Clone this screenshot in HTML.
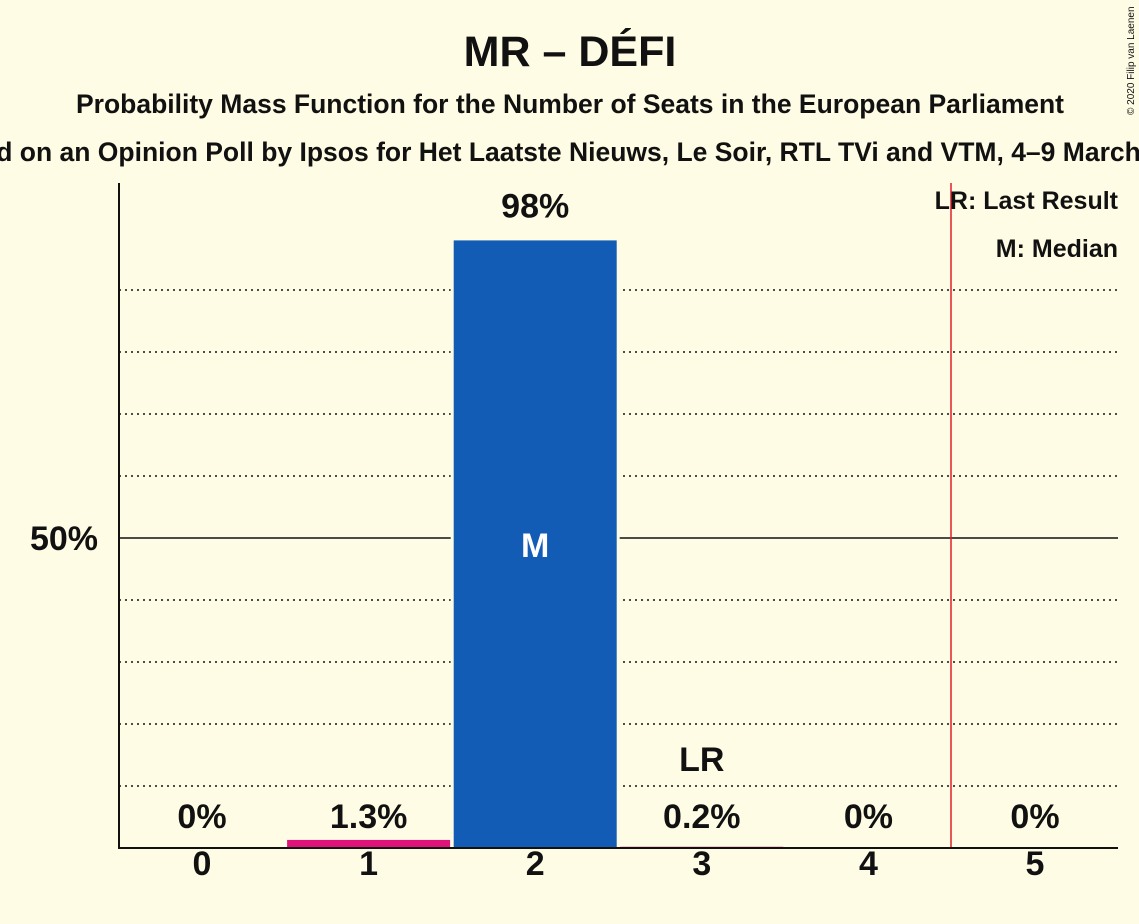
<!DOCTYPE html>
<html><head><meta charset="utf-8"><style>
body{margin:0;background:#fefce4;}
svg{display:block;font-family:"Liberation Sans",sans-serif;}
</style></head><body>
<svg id="c" width="1139" height="924" xmlns="http://www.w3.org/2000/svg">
<rect width="1139" height="924" fill="#fefce4"/>
<text x="570" y="66" text-anchor="middle" font-size="43" font-weight="bold" fill="#111">MR – DÉFI</text>
<text x="570" y="113" text-anchor="middle" font-size="26.5" font-weight="bold" fill="#111">Probability Mass Function for the Number of Seats in the European Parliament</text>
<text x="570" y="161" text-anchor="middle" font-size="26.5" font-weight="bold" fill="#111">Based on an Opinion Poll by Ipsos for Het Laatste Nieuws, Le Soir, RTL TVi and VTM, 4–9 March 2020</text>
<text transform="translate(1134,115) rotate(-90)" font-size="10" fill="#111">© 2020 Filip van Laenen</text>
<g id="grid"></g>
<g id="bars"></g>
<line x1="951" y1="183" x2="951" y2="848" stroke="#e0202a" stroke-width="1.5"/>
<line x1="119" y1="183" x2="119" y2="849" stroke="#111" stroke-width="2"/>
<line x1="118" y1="848" x2="1118" y2="848" stroke="#111" stroke-width="2"/>
<text x="98" y="550" text-anchor="end" font-size="34" font-weight="bold" fill="#111">50%</text>
<text x="1118" y="209" text-anchor="end" font-size="25" font-weight="bold" fill="#111">LR: Last Result</text>
<text x="1118" y="257" text-anchor="end" font-size="25" font-weight="bold" fill="#111">M: Median</text>
</svg>
<script>
const seats=[0,1,2,3,4,5];
const probs=[0,1.3,98,0.2,0,0];
const labels=["0%","1.3%","98%","0.2%","0%","0%"];
const medianSeat=2, lastResult=3;
const NS="http://www.w3.org/2000/svg";
const x0=202, dx=166.6, bw=163, base=848, pxPer=6.2;
const xs=s=>x0+s*dx, ys=v=>base-v*pxPer;
function mk(t,a,p){const e=document.createElementNS(NS,t);for(const k in a)e.setAttribute(k,a[k]);p.appendChild(e);return e;}
const g=document.getElementById('grid'), b=document.getElementById('bars');
for(let v=10;v<100;v+=10){
  const y=ys(v);
  const l=mk('line',{x1:119,y1:y,x2:1118,y2:y,stroke:'#111','stroke-width':v==50?1.6:1.5,'stroke-dasharray':v==50?'none':'2,4'},g);
  
  
}
seats.forEach((s,i)=>{
  const p=probs[i], top=ys(p), cx=xs(s);
  if(p>0){
    const col=s==medianSeat?'#135cb6':'#e0137a';
    const bg=mk('rect',{x:cx-bw/2-3,y:top,width:bw+6,height:base-top,fill:'#fefce4'},b);
    
    
    const r=mk('rect',{x:cx-bw/2,y:top,width:bw,height:base-top,fill:col},b);
    
    
  }
  const ly=p>5?top-34:817;
  const t=mk('text',{x:cx,y:ly+11,'text-anchor':'middle','font-size':34,'font-weight':'bold',fill:'#111'},b);
  t.textContent=labels[i];
  
  
  const xt=mk('text',{x:cx,y:875,'text-anchor':'middle','font-size':34,'font-weight':'bold',fill:'#111'},b);
  xt.textContent=s;
  
  
  if(s==medianSeat){
    const m=mk('text',{x:cx,y:557,'text-anchor':'middle','font-size':34,'font-weight':'bold',fill:'#fff'},b);
    m.textContent='M';
    
    
  }
  if(s==lastResult){
    const m=mk('text',{x:cx,y:771,'text-anchor':'middle','font-size':34,'font-weight':'bold',fill:'#111'},b);
    m.textContent='LR';
    
    
  }
});
</script>
</body></html>
